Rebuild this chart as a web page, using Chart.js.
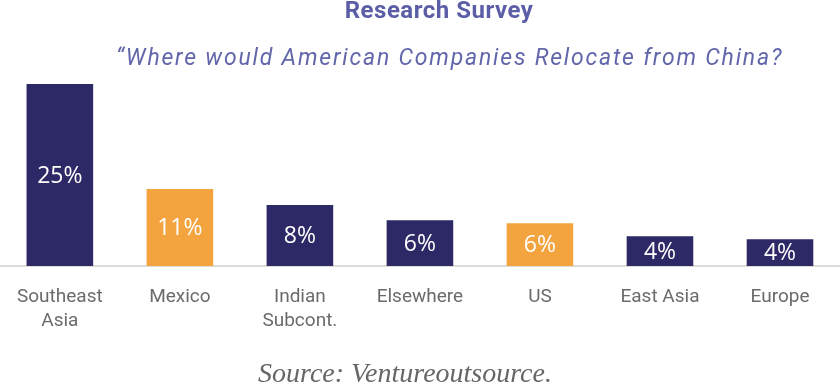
<!DOCTYPE html>
<html>
<head>
<meta charset="utf-8">
<script src="https://cdn.jsdelivr.net/npm/chart.js@4"></script>
<style>
    body { margin: 0; background: #fff; overflow: hidden; }
    #wrap { position: relative; width: 840px; height: 386px; overflow: hidden; }
    #grafico { position: absolute; left: -2px; top: 0; }
    .txt { position: absolute; left: 0; width: 840px; white-space: nowrap; }
    #titulo { top: -4px; text-align: center; font: bold 24px Roboto, sans-serif; letter-spacing: 0.5px; color: #5b5ea6; padding-left: 38px; box-sizing: border-box; }
    #subtitulo { top: 44px; left: 116px; width: auto; font: italic 400 23px Roboto, sans-serif; letter-spacing: 1.8px; color: #6266aa; }
    #fonte { top: 357px; text-align: center; font: italic 28px 'Liberation Serif', serif; color: #666; padding-right: 30px; box-sizing: border-box; }
</style>
</head>
<body>
<div id="wrap">
    <canvas id="grafico" width="842" height="386"></canvas>
    <div class="txt" id="titulo">Research Survey</div>
    <div class="txt" id="subtitulo">“Where would American Companies Relocate from China?</div>
    <div class="txt" id="fonte">Source: Ventureoutsource.</div>
</div>
<script>
const categorias = [['Southeast', 'Asia'], 'Mexico', ['Indian', 'Subcont.'], 'Elsewhere', 'US', 'East Asia', 'Europe'];
const valores = [25, 10.6, 8.4, 6.3, 5.9, 4.1, 3.7];
const rotulos = ['25%', '11%', '8%', '6%', '6%', '4%', '4%'];
const cores = ['#2d2966', '#f3a43f', '#2d2966', '#2d2966', '#f3a43f', '#2d2966', '#2d2966'];

// escreve o percentual no meio de cada barra
const rotulosBarras = {
    id: 'rotulosBarras',
    afterDatasetsDraw(chart) {
        const ctx = chart.ctx;
        const meta = chart.getDatasetMeta(0);
        ctx.save();
        ctx.fillStyle = '#ffffff';
        ctx.font = '400 23px "Open Sans", sans-serif';
        ctx.textAlign = 'center';
        ctx.textBaseline = 'middle';
        meta.data.forEach((barra, i) => {
            ctx.fillText(rotulos[i], barra.x, (barra.y + barra.base) / 2 + 1);
        });
        ctx.restore();
    }
};

document.addEventListener('DOMContentLoaded', () => {
    const ctx = document.getElementById('grafico').getContext('2d');
    new Chart(ctx, {
        type: 'bar',
        data: {
            labels: categorias,
            datasets: [{
                data: valores,
                backgroundColor: cores,
                borderWidth: 0,
                barPercentage: 0.555,
                categoryPercentage: 1
            }]
        },
        options: {
            responsive: false,
            animation: false,
            layout: { padding: { top: 84, bottom: 34, left: 0, right: 0 } },
            plugins: {
                legend: { display: false },
                tooltip: { enabled: false }
            },
            scales: {
                x: {
                    grid: { display: false, drawTicks: false },
                    border: { display: true, color: '#dcdcdc', width: 2 },
                    ticks: {
                        color: '#6b6b6b',
                        padding: 19,
                        maxRotation: 0,
                        autoSkip: false,
                        font: { family: 'Roboto', size: 19, weight: '400', lineHeight: 1.26 }
                    }
                },
                y: {
                    display: false,
                    min: 0,
                    max: 25
                }
            }
        },
        plugins: [rotulosBarras]
    });
});
</script>
</body>
</html>
